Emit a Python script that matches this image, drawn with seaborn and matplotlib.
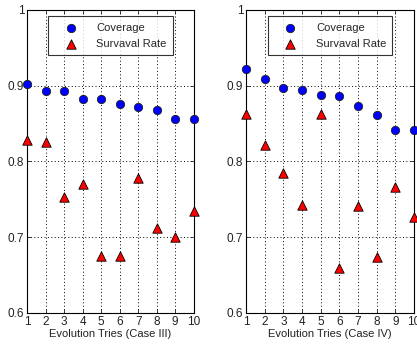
import matplotlib
matplotlib.use("Agg")
import matplotlib.pyplot as plt
import seaborn as sns
import pandas as pd

tries = [1, 2, 3, 4, 5, 6, 7, 8, 9, 10]
cov_iii = [0.902, 0.8925, 0.8925, 0.882, 0.882, 0.875, 0.872, 0.868, 0.856, 0.856]
surv_iii = [0.828, 0.825, 0.753, 0.770, 0.675, 0.675, 0.778, 0.712, 0.700, 0.734]
cov_iv = [0.922, 0.909, 0.897, 0.894, 0.887, 0.886, 0.873, 0.861, 0.842, 0.841]
surv_iv = [0.862, 0.821, 0.784, 0.743, 0.862, 0.660, 0.741, 0.6745, 0.766, 0.726]
xlabels = ["Evolution Tries (Case III)", "Evolution Tries (Case IV)"]
yticks = [0.6, 0.7, 0.8, 0.9, 1.0]
yticklabels = ["0.6", "0.7", "0.8", "0.9", "1"]

sns.set_style("ticks")
plt.rcParams['font.family'] = ['Liberation Sans', 'DejaVu Sans']

fig = plt.figure(figsize=(4.17, 3.47), dpi=100)
positions = [[0.0647, 0.098, 0.4, 0.874], [0.590, 0.098, 0.403, 0.874]]

for pos, cov, surv, xl in zip(positions, [cov_iii, cov_iv], [surv_iii, surv_iv], xlabels):
    ax = fig.add_axes(pos)
    df = pd.DataFrame({"x": tries, "Coverage": cov, "Survaval Rate": surv})
    sns.scatterplot(data=df, x="x", y="Coverage", ax=ax, marker="o", s=36,
                    color="#0000ff", edgecolor="#202020", linewidth=0.6,
                    label="Coverage", clip_on=False, zorder=3)
    sns.scatterplot(data=df, x="x", y="Survaval Rate", ax=ax, marker="^", s=46,
                    color="#ff0000", edgecolor="#000000", linewidth=0.6,
                    label="Survaval Rate", clip_on=False, zorder=3)
    ax.set_xlim(1, 10)
    ax.set_ylim(0.6, 1.0)
    ax.set_xticks(tries)
    ax.set_yticks(yticks)
    ax.set_yticklabels(yticklabels)
    ax.grid(True, linestyle=(0, (1, 2.5)), color="black", linewidth=0.7)
    for sp in ax.spines.values():
        sp.set_visible(True)
        sp.set_color("black")
        sp.set_linewidth(0.8)
    ax.tick_params(direction="in", top=True, right=True, length=3, width=0.6,
                   labelsize=8.5, colors="#222222", pad=2)
    ax.set_xlabel(xl, fontsize=8, color="#222222", labelpad=1)
    ax.set_ylabel("")
    leg = ax.legend(loc="upper center", bbox_to_anchor=(0.5, 0.985), fontsize=8,
                    frameon=True, fancybox=False, edgecolor="black",
                    borderpad=0.55, handlelength=3.0, handletextpad=0.8,
                    labelspacing=0.6, borderaxespad=0.2)
    leg.get_frame().set_linewidth(0.8)

fig.savefig("out.png", dpi=100)
